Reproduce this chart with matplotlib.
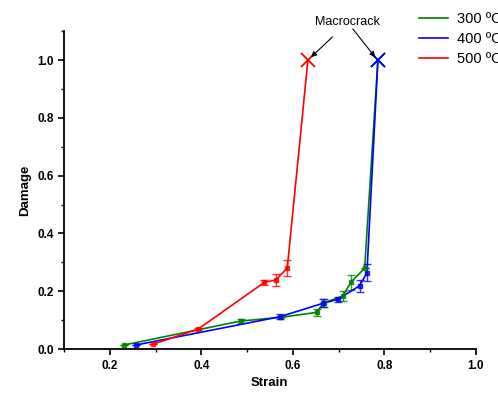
import matplotlib.pyplot as plt

plt.rcParams['font.family'] = ['Liberation Sans', 'DejaVu Sans']

# 300 C
strain_300 = [0.231, 0.486, 0.575, 0.652, 0.668, 0.709, 0.727, 0.757, 0.786]
damage_300 = [0.014, 0.097, 0.110, 0.127, 0.160, 0.183, 0.231, 0.280, 1.0]
err_300 = [0.0, 0.008, 0.0, 0.012, 0.014, 0.018, 0.026, 0.0, 0.0]

# 400 C
strain_400 = [0.257, 0.572, 0.665, 0.698, 0.746, 0.762, 0.786]
damage_400 = [0.014, 0.112, 0.158, 0.172, 0.219, 0.264, 1.0]
err_400 = [0.0, 0.008, 0.014, 0.008, 0.02, 0.03, 0.0]

# 500 C
strain_500 = [0.295, 0.393, 0.538, 0.563, 0.588, 0.633]
damage_500 = [0.017, 0.069, 0.231, 0.239, 0.281, 1.0]
err_500 = [0.0, 0.004, 0.008, 0.022, 0.028, 0.0]

series = [
    ('300 ºC', '#008000', strain_300, damage_300, err_300),
    ('400 ºC', '#0000ff', strain_400, damage_400, err_400),
    ('500 ºC', '#ff0000', strain_500, damage_500, err_500),
]

fig = plt.figure(figsize=(4.98, 3.94), dpi=100)
ax = fig.add_axes([0.1285, 0.114, 0.827, 0.807])

for label, col, xs, ys, es in series:
    ax.plot(xs, ys, '-', color=col, lw=1.2, label=label)
    ax.errorbar(xs[:-1], ys[:-1], yerr=es[:-1], fmt='s', color=col, ms=3,
                ecolor=col, elinewidth=1, capsize=3, alpha=0.8)
    ax.plot(xs[-1], ys[-1], 'x', color=col, ms=10, mew=1.3)

ax.set_xlim(0.1, 1.0)
ax.set_ylim(0, 1.1)
ax.set_xticks([0.2, 0.4, 0.6, 0.8, 1.0])
ax.set_xticks([0.1, 0.3, 0.5, 0.7, 0.9], minor=True)
ax.set_yticks([0.0, 0.2, 0.4, 0.6, 0.8, 1.0])
ax.set_yticks([0.1, 0.3, 0.5, 0.7, 0.9, 1.1], minor=True)
ax.set_xticklabels(['0.2', '0.4', '0.6', '0.8', '1.0'], fontweight='bold', fontsize=8.5)
ax.set_yticklabels(['0.0', '0.2', '0.4', '0.6', '0.8', '1.0'], fontweight='bold', fontsize=8.5)
ax.tick_params(which='major', length=4, width=1.2, direction='out')
ax.tick_params(which='minor', length=2.5, width=1, direction='out')
ax.spines['top'].set_visible(False)
ax.spines['right'].set_visible(False)
ax.spines['left'].set_linewidth(1.3)
ax.spines['bottom'].set_linewidth(1.3)
ax.set_xlabel('Strain', fontweight='bold', fontsize=9.5)
ax.set_ylabel('Damage', fontweight='bold', fontsize=9.5)

ax.annotate('Macrocrack', xy=(0.64, 1.01), xytext=(0.72, 1.13),
            ha='center', va='center', fontsize=9, annotation_clip=False,
            arrowprops=dict(arrowstyle='-|>', color='black', lw=0.8,
                            shrinkA=6, shrinkB=0, mutation_scale=8))
ax.annotate('', xy=(0.78, 1.01), xytext=(0.72, 1.13), annotation_clip=False,
            arrowprops=dict(arrowstyle='-|>', color='black', lw=0.8,
                            shrinkA=6, shrinkB=0, mutation_scale=8))

ax.legend(loc='upper left', bbox_to_anchor=(0.83, 1.10), frameon=False,
          fontsize=10.5, handlelength=2.0, labelspacing=0.4, handletextpad=0.6)

fig.savefig('out.png', dpi=100)
